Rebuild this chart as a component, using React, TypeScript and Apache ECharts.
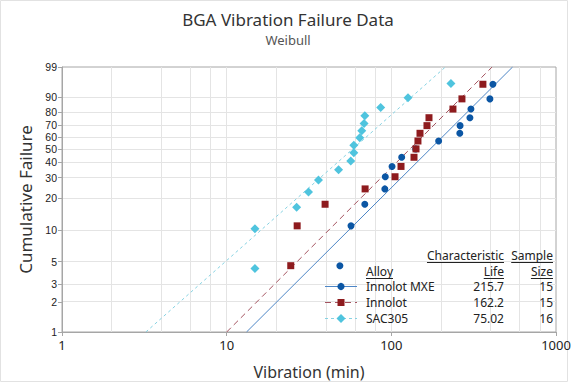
import React, { useEffect, useRef } from "react";
import * as echarts from "echarts";

const TITLE = "BGA Vibration Failure Data";
const SUBTITLE = "Weibull";
const X_NAME = "Vibration (min)";
const Y_NAME = "Cumulative Failure";

const yTickPercents = [1, 2, 3, 5, 10, 20, 30, 40, 50, 60, 70, 80, 90, 99];
const xTickValues = [1, 10, 100, 1000];
const xGridValues = [2, 4, 6, 8, 10, 20, 40, 60, 80, 100, 200, 400, 600, 800];

const mxeLife = [48.7, 56.9, 69.0, 91.3, 91.9, 101.0, 115.6, 140.6, 193.8, 260.5, 261.5, 300.1, 304.3, 396.8, 413.8];
const mxePct = [4.55, 11.04, 17.53, 24.03, 30.52, 37.01, 43.51, 50.0, 56.49, 62.99, 69.48, 75.97, 82.47, 88.96, 95.45];

const innolotLife = [24.5, 26.8, 39.6, 69.3, 105.3, 114.5, 137.3, 141.2, 145.1, 149.3, 164.6, 169.3, 236.7, 268.4, 359.8];
const innolotPct = [4.55, 11.04, 17.53, 24.03, 30.52, 37.01, 43.51, 50.0, 56.49, 62.99, 69.48, 75.97, 82.47, 88.96, 95.45];

const sacLife = [14.85, 14.85, 26.6, 31.4, 36.1, 47.8, 56.7, 59.2, 59.2, 64.3, 66.1, 68.3, 69.0, 86.2, 126.3, 230.2];
const sacPct = [4.27, 10.37, 16.46, 22.56, 28.66, 34.76, 40.85, 46.95, 53.05, 59.15, 65.24, 71.34, 77.44, 83.54, 89.63, 95.73];

// fitted line endpoints (life at 1% and 99%)
const fitPct = [1, 99];
const mxeFitLife = [13.2, 545];
const innolotFitLife = [10.0, 409];
const sacFitLife = [3.23, 213];

const legendAlloys = ["Innolot MXE", "Innolot", "SAC305"];
const legendLife = ["215.7", "162.2", "75.02"];
const legendSize = ["15", "15", "16"];

const FONT = '"Noto Sans", "Open Sans", sans-serif';
const TICK_FONT = '"Liberation Sans", Arial, sans-serif';
const C_MXE = "#0b56a4";
const C_MXE_LINE = "#4d86c6";
const C_INN = "#8e1b1e";
const C_INN_LINE = "#a4535f";
const C_SAC = "#4fc4de";
const C_SAC_LINE = "#86d2e2";

const wb = (p: number) => Math.log(-Math.log(1 - p / 100));
const unwb = (v: number) => 100 * (1 - Math.exp(-Math.exp(v)));

function measure(text: string, font: string) {
  const c = document.createElement("canvas").getContext("2d");
  if (!c) return text.length * 6.5;
  c.font = font;
  return c.measureText(text).width;
}

function buildLegend() {
  const font = `12px ${FONT}`;
  const els: any[] = [];
  const txt = (text: string, x: number, y: number, align: string) => ({
    type: "text",
    x,
    y,
    z: 10,
    silent: true,
    style: { text, font, fill: "#222", textAlign: align, textVerticalAlign: "middle" },
  });
  const underline = (text: string, x: number, y: number, align: string) => {
    const w = measure(text, font);
    const x1 = align === "right" ? x - w : x;
    return {
      type: "line",
      z: 10,
      silent: true,
      shape: { x1, y1: y + 7.5, x2: x1 + w, y2: y + 7.5 },
      style: { stroke: "#222", lineWidth: 1 },
    };
  };
  const lifeX = 504;
  const sizeX = 553;
  const alloyX = 366;
  const h1 = 255;
  const h2 = 271;
  els.push(txt("Characteristic", lifeX, h1, "right"), underline("Characteristic", lifeX, h1, "right"));
  els.push(txt("Sample", sizeX, h1, "right"), underline("Sample", sizeX, h1, "right"));
  els.push(txt("Alloy", alloyX, h2, "left"), underline("Alloy", alloyX, h2, "left"));
  els.push(txt("Life", lifeX, h2, "right"), underline("Life", lifeX, h2, "right"));
  els.push(txt("Size", sizeX, h2, "right"), underline("Size", sizeX, h2, "right"));
  const rowsY = [286.5, 302.5, 318.5];
  const lineStyles = [
    { stroke: C_MXE_LINE, lineDash: null },
    { stroke: C_INN_LINE, lineDash: [6, 4] },
    { stroke: C_SAC_LINE, lineDash: [3, 3] },
  ];
  rowsY.forEach((y, i) => {
    els.push({
      type: "line",
      z: 10,
      silent: true,
      shape: { x1: 325, y1: y, x2: 357, y2: y },
      style: { stroke: lineStyles[i].stroke, lineWidth: 1, lineDash: lineStyles[i].lineDash },
    });
    if (i === 0) {
      els.push({ type: "circle", z: 11, silent: true, shape: { cx: 341, cy: y, r: 3.6 }, style: { fill: C_MXE } });
    } else if (i === 1) {
      els.push({ type: "rect", z: 11, silent: true, shape: { x: 337.5, y: y - 3.5, width: 7, height: 7 }, style: { fill: C_INN } });
    } else {
      els.push({
        type: "polygon",
        z: 11,
        silent: true,
        shape: { points: [[341, y - 4.5], [345.5, y], [341, y + 4.5], [336.5, y]] },
        style: { fill: C_SAC },
      });
    }
    els.push(txt(legendAlloys[i], alloyX, y, "left"));
    els.push(txt(legendLife[i], lifeX, y, "right"));
    els.push(txt(legendSize[i], sizeX, y, "right"));
  });
  return els;
}

export default function App() {
  const ref = useRef<HTMLDivElement>(null);
  useEffect(() => {
    if (!ref.current) return;
    const chart = echarts.init(ref.current, null, { renderer: "svg" });
    const yTicks = yTickPercents.map(wb);
    const pts = (life: number[], pct: number[]) => life.map((v, i) => [v, wb(pct[i])]);
    const option: any = {
      animation: false,
      backgroundColor: "#ffffff",
      textStyle: { fontFamily: FONT },
      title: {
        text: TITLE,
        subtext: SUBTITLE,
        left: "center",
        top: 6,
        itemGap: 5,
        textStyle: { fontSize: 17, fontWeight: "normal", color: "#333", fontFamily: FONT },
        subtextStyle: { fontSize: 13, color: "#555", fontFamily: FONT },
      },
      grid: {
        left: 62,
        right: 20,
        top: 67,
        bottom: 52,
        show: true,
        borderColor: "#a6a6a6",
        borderWidth: 1,
        backgroundColor: "transparent",
        containLabel: false,
        outerBoundsMode: "none",
      },
      xAxis: {
        type: "log",
        logBase: 10,
        min: 1,
        max: 1000,
        name: X_NAME,
        nameLocation: "middle",
        nameGap: 32,
        nameTextStyle: { fontSize: 16, color: "#333", fontFamily: FONT },
        axisLine: { show: true, onZero: false, lineStyle: { color: "#a6a6a6" } },
        axisTick: { show: true, length: 4, lineStyle: { color: "#a6a6a6" } },
        axisLabel: {
          fontSize: 13,
          color: "#222",
          margin: 6,
          customValues: xTickValues,
          formatter: (v: number) => String(Math.round(v)),
        },
        splitLine: { show: false },
        minorTick: { show: false },
      },
      yAxis: {
        type: "value",
        min: wb(1),
        max: wb(99),
        name: Y_NAME,
        nameLocation: "middle",
        nameGap: 25,
        nameTextStyle: { fontSize: 17, color: "#333", fontFamily: FONT },
        axisLine: { show: true, onZero: false, lineStyle: { color: "#a6a6a6" } },
        axisTick: { show: true, length: 4, customValues: yTicks, lineStyle: { color: "#a6a6a6" } },
        axisLabel: {
          fontSize: 10.5,
          lineHeight: 10,
          fontFamily: TICK_FONT,
          color: "#222",
          margin: 5,
          customValues: yTicks,
          formatter: (v: number) => String(Math.round(unwb(v))),
        },
        splitLine: { show: false },
      },
      graphic: [
        {
          type: "rect",
          silent: true,
          shape: { x: 0.5, y: 0.5, width: 567, height: 381 },
          style: { fill: "none", stroke: "#e2e2e2", lineWidth: 1 },
          z: -10,
        },
        ...buildLegend(),
      ],
      series: [
        {
          type: "scatter",
          name: "grid",
          data: [[1, wb(1)]],
          symbolSize: 0,
          silent: true,
          z: 0,
          markLine: {
            silent: true,
            z: 0,
            symbol: ["none", "none"],
            label: { show: false },
            lineStyle: { color: "#e4e4e4", width: 1, type: "solid" },
            emphasis: { disabled: true },
            data: [
              ...yTickPercents.slice(1, -1).map((p) => ({ yAxis: wb(p) })),
              ...xGridValues.map((v) => ({ xAxis: v })),
            ],
          },
        },
        {
          type: "line",
          name: "MXE fit",
          data: pts(mxeFitLife, fitPct),
          symbol: "none",
          silent: true,
          z: 2,
          lineStyle: { color: C_MXE_LINE, width: 1, type: "solid" },
        },
        {
          type: "line",
          name: "Innolot fit",
          data: pts(innolotFitLife, fitPct),
          symbol: "none",
          silent: true,
          z: 2,
          lineStyle: { color: C_INN_LINE, width: 1, type: [6, 4] },
        },
        {
          type: "line",
          name: "SAC305 fit",
          data: pts(sacFitLife, fitPct),
          symbol: "none",
          silent: true,
          z: 2,
          lineStyle: { color: C_SAC_LINE, width: 1, type: [3, 3] },
        },
        {
          type: "scatter",
          name: "Innolot MXE",
          data: pts(mxeLife, mxePct),
          symbol: "circle",
          symbolSize: 7,
          z: 3,
          itemStyle: { color: C_MXE, opacity: 1 },
        },
        {
          type: "scatter",
          name: "Innolot",
          data: pts(innolotLife, innolotPct),
          symbol: "rect",
          symbolSize: 7,
          z: 4,
          itemStyle: { color: C_INN, opacity: 1 },
        },
        {
          type: "scatter",
          name: "SAC305",
          data: pts(sacLife, sacPct),
          symbol: "diamond",
          symbolSize: 9,
          z: 4,
          itemStyle: { color: C_SAC, opacity: 1 },
        },
      ],
    };
    chart.setOption(option);
    return () => chart.dispose();
  }, []);
  return (
    <div
      ref={ref}
      style={{ position: "fixed", left: 0, top: 0, width: 576, height: 384, background: "#fff" }}
    />
  );
}
